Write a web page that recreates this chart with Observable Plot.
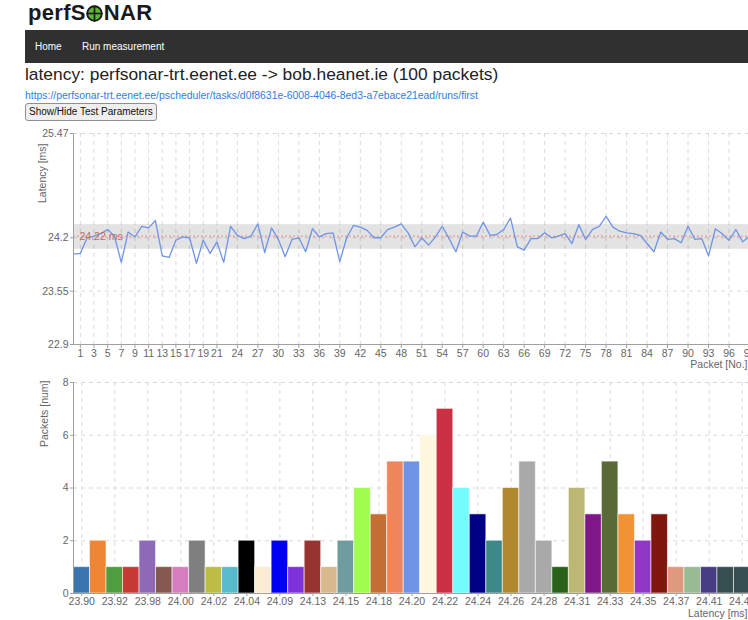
<!DOCTYPE html>
<html>
<head>
<meta charset="utf-8">
<script src="https://cdn.jsdelivr.net/npm/d3@7"></script>
<script src="https://cdn.jsdelivr.net/npm/@observablehq/plot@0.6"></script>
<style>
  html, body { margin: 0; padding: 0; background: #fff; }
  body { width: 748px; height: 620px; overflow: hidden; position: relative; font-family: "Liberation Sans", Arial, Helvetica, sans-serif; color: #222; }
  .abs { position: absolute; white-space: nowrap; }
  #logo { left: 28px; top: 0px; font-size: 22px; font-weight: bold; line-height: 25px; color: #1a1a1a; letter-spacing: 0.3px; }
  #logo svg { vertical-align: -2px; margin: 0 0.5px; }
  #nav { left: 25px; top: 30px; width: 740px; height: 33px; background: #303030; }
  #nav span { position: absolute; top: 0; line-height: 33px; font-size: 10px; color: #fff; }
  #title { left: 25px; top: 64px; font-size: 17.4px; line-height: 21px; color: #222; }
  #link { left: 25px; top: 90px; font-size: 10.4px; line-height: 12px; color: #2f7be8; text-decoration: none; }
  #btn { left: 25px; top: 103px; height: 18px; padding: 0 3px; font-size: 10px; font-family: "Liberation Sans", Arial, sans-serif; background: #efefef; border: 1px solid #8f8f8f; border-radius: 3px; color: #111; line-height: 16px; }
  #chart1 { left: 0; top: 125px; width: 760px; }
  #chart2 { left: 0; top: 372px; width: 760px; }
</style>
</head>
<body>
<div id="logo" class="abs">perfS<svg width="17" height="17" viewBox="0 0 20 20" aria-label="O"><circle cx="10" cy="10" r="8.6" fill="#5cb82e" stroke="#1a1a1a" stroke-width="2.2"/><line x1="10" y1="0.5" x2="10" y2="19.5" stroke="#1a1a1a" stroke-width="2"/><line x1="0.5" y1="10" x2="19.5" y2="10" stroke="#1a1a1a" stroke-width="2"/></svg>NAR</div>
<div id="nav" class="abs"><span style="left:10px">Home</span><span style="left:57px">Run measurement</span></div>
<div id="title" class="abs">latency: perfsonar-trt.eenet.ee -&gt; bob.heanet.ie (100 packets)</div>
<a id="link" class="abs" href="#">https://perfsonar-trt.eenet.ee/pscheduler/tasks/d0f8631e-6008-4046-8ed3-a7ebace21ead/runs/first</a>
<button id="btn" class="abs">Show/Hide Test Parameters</button>
<div id="chart1" class="abs"></div>
<div id="chart2" class="abs"></div>
<script>
// ---------- DATA ----------
// latency per packet (ms), packets numbered 0..99
const latencyMs = [
  24.00, 24.01, 24.20, 24.22, 24.25, 24.30, 24.22, 23.90, 24.27, 24.21,
  24.34, 24.32, 24.41, 23.98, 23.96, 24.17, 24.21, 24.20, 23.89, 24.17,
  24.01, 24.15, 23.90, 24.34, 24.23, 24.19, 24.22, 24.37, 24.02, 24.32,
  24.18, 23.97, 24.18, 24.20, 24.03, 24.31, 24.21, 24.25, 24.26, 23.91,
  24.20, 24.35, 24.33, 24.29, 24.20, 24.20, 24.30, 24.33, 24.37, 24.26,
  24.09, 24.20, 24.11, 24.21, 24.34, 24.19, 24.03, 24.27, 24.22, 24.22,
  24.39, 24.23, 24.24, 24.30, 24.44, 24.09, 24.05, 24.19, 24.19, 24.26,
  24.20, 24.22, 24.25, 24.13, 24.36, 24.18, 24.30, 24.34, 24.46, 24.33,
  24.28, 24.26, 24.25, 24.23, 24.13, 24.03, 24.27, 24.18, 24.19, 24.14,
  24.34, 24.18, 24.19, 23.98, 24.31, 24.25, 24.17, 24.30, 24.15, 24.22
];
const meanLatency = 24.22;
const stdBand = [24.06, 24.36];
const latencyDomain = [22.9, 25.47];
const latencyTicks = [22.9, 23.55, 24.2, 25.47];
const packetTicks = [1, 3, 5, 7, 9, 11, 13, 15, 17, 19, 21, 24, 27, 30, 33, 36, 39, 42, 45, 48,
  51, 54, 57, 60, 63, 66, 69, 72, 75, 78, 81, 84, 87, 90, 93, 96, 99];

// histogram: latency bins (ms) and packet counts
const binLabels = ["23.90", "23.91", "23.92", "23.96", "23.98", "23.99", "24.00", "24.01", "24.02", "24.03",
  "24.04", "24.07", "24.09", "24.11", "24.13", "24.14", "24.15", "24.17", "24.18", "24.19",
  "24.20", "24.21", "24.22", "24.23", "24.24", "24.25", "24.26", "24.27", "24.28", "24.30",
  "24.31", "24.32", "24.33", "24.34", "24.35", "24.36", "24.37", "24.39", "24.41", "24.44", "24.46"];
const binCounts = [1, 2, 1, 1, 2, 1, 1, 2, 1, 1,
  2, 1, 2, 1, 2, 1, 2, 4, 3, 5,
  5, 6, 7, 4, 3, 2, 4, 5, 2, 1,
  4, 3, 5, 3, 2, 3, 1, 1, 1, 1, 1];
const binTickLabels = ["23.90", "23.92", "23.98", "24.00", "24.02", "24.04", "24.09", "24.13", "24.15", "24.18",
  "24.20", "24.22", "24.24", "24.26", "24.28", "24.31", "24.33", "24.35", "24.37", "24.41", "24.46"];
const countDomain = [0, 8];
const countTicks = [0, 2, 4, 6, 8];

// axis titles
const topTitles = {y: "Latency [ms]", x: "Packet [No.]"};
const bottomTitles = {y: "Packets [num]", x: "Latency [ms]"};

// ---------- STYLES ----------
const barColorNames = ["#1f77b4", "#ff7f0e", "#2ca02c", "#d62728", "#9467bd", "#8c564b", "#e377c2", "#7f7f7f", "#bcbd22", "#17becf",
  "black", "blanchedalmond", "blue", "blueviolet", "brown", "burlywood", "cadetblue", "chartreuse", "chocolate", "coral",
  "cornflowerblue", "cornsilk", "crimson", "cyan", "darkblue", "darkcyan", "darkgoldenrod", "darkgray", "darkgrey", "darkgreen",
  "darkkhaki", "darkmagenta", "darkolivegreen", "darkorange", "darkorchid", "darkred", "darksalmon", "darkseagreen", "darkslateblue", "darkslategray", "darkslategrey"];

// the reference screenshot is colour-managed (Display P3); reproduce its look
function asShown(c) {
  const {r, g, b} = d3.rgb(c);
  const lin = v => { v /= 255; return v <= 0.04045 ? v / 12.92 : Math.pow((v + 0.055) / 1.055, 2.4); };
  const enc = v => 255 * (v <= 0.0031308 ? 12.92 * v : 1.055 * Math.pow(v, 1 / 2.4) - 0.055);
  const R = lin(r), G = lin(g), B = lin(b);
  return d3.rgb(enc(0.8225 * R + 0.1774 * G), enc(0.0332 * R + 0.9669 * G), enc(0.0171 * R + 0.0724 * G + 0.9108 * B)).formatHex();
}
const barColors = barColorNames.map(asShown);
const lineColor = asShown("cornflowerblue");
const gridColor = "#d9d9d9";
const axisColor = "#a0a0a0";
const font = "'Liberation Sans', Arial, Helvetica, sans-serif";
const baseStyle = {fontFamily: font, fontSize: "10.5px", color: "#666", background: "transparent", maxWidth: "none", overflow: "visible"};

// ---------- TOP: latency per packet ----------
const topChart = Plot.plot({
  width: 760, height: 245,
  marginLeft: 73, marginRight: 11, marginTop: 8, marginBottom: 26,
  style: baseStyle,
  x: {domain: [0, latencyMs.length - 1]},
  y: {domain: latencyDomain},
  marks: [
    Plot.gridX(packetTicks, {stroke: gridColor, strokeOpacity: 1, strokeDasharray: "4,4"}),
    Plot.gridY(latencyTicks, {stroke: gridColor, strokeOpacity: 1, strokeDasharray: "4,4"}),
    Plot.rect([stdBand], {y1: d => d[0], y2: d => d[1], fill: "#000", fillOpacity: 0.11}),
    Plot.ruleY([meanLatency], {stroke: "#ec8a8a", strokeWidth: 1, strokeDasharray: "2,2"}),
    Plot.line(latencyMs, {x: (d, i) => i, y: d => d, stroke: lineColor, strokeWidth: 1.3}),
    Plot.text([meanLatency], {y: d => d, frameAnchor: "left", dx: 6, text: d => `${d.toFixed(2)} ms`, fill: "#bd6a6a", textAnchor: "start", fontSize: 10.5}),
    Plot.frame({anchor: "left", stroke: axisColor}),
    Plot.frame({anchor: "bottom", stroke: axisColor}),
    Plot.axisX(packetTicks, {label: null, tickSize: 4, tickPadding: 1, stroke: axisColor, fill: "#666"}),
    Plot.axisY(latencyTicks, {label: null, tickSize: 3, tickPadding: 2, stroke: axisColor, fill: "#666", tickFormat: d => String(d)}),
    Plot.text([topTitles.y], {frameAnchor: "top-left", dx: -31, dy: 10, rotate: -90, textAnchor: "end", lineAnchor: "middle", fill: "#666", fontSize: 10.5}),
    Plot.text([topTitles.x], {frameAnchor: "bottom-right", dx: -2, dy: 20, textAnchor: "end", lineAnchor: "middle", fill: "#666", fontSize: 10.5})
  ]
});
document.getElementById("chart1").append(topChart);

// ---------- BOTTOM: histogram ----------
const bins = binLabels.map((label, i) => ({label, count: binCounts[i]}));
const bottomChart = Plot.plot({
  width: 760, height: 248,
  marginLeft: 73, marginRight: 10, marginTop: 10, marginBottom: 27,
  style: baseStyle,
  x: {type: "band", domain: binLabels, padding: 0, round: false},
  y: {domain: countDomain},
  color: {type: "ordinal", domain: binLabels, range: barColors},
  marks: [
    Plot.gridX(binTickLabels, {stroke: gridColor, strokeOpacity: 1, strokeDasharray: "4,4"}),
    Plot.gridY(countTicks, {stroke: gridColor, strokeOpacity: 1, strokeDasharray: "4,4"}),
    Plot.barY(bins, {x: "label", y: "count", fill: "label", stroke: "#fff", strokeOpacity: 0.55, strokeWidth: 1}),
    Plot.frame({anchor: "left", stroke: axisColor}),
    Plot.frame({anchor: "bottom", stroke: axisColor}),
    Plot.axisX(binTickLabels, {label: null, tickSize: 3, tickPadding: 1, stroke: axisColor, fill: "#666"}),
    Plot.axisY(countTicks, {label: null, tickSize: 3, tickPadding: 2, stroke: axisColor, fill: "#666"}),
    Plot.text([bottomTitles.y], {frameAnchor: "top-left", dx: -29, dy: -2, rotate: -90, textAnchor: "end", lineAnchor: "middle", fill: "#666", fontSize: 10.5}),
    Plot.text([bottomTitles.x], {frameAnchor: "bottom-right", dx: -3, dy: 20, textAnchor: "end", lineAnchor: "middle", fill: "#666", fontSize: 10.5})
  ]
});
document.getElementById("chart2").append(bottomChart);
</script>
</body>
</html>
